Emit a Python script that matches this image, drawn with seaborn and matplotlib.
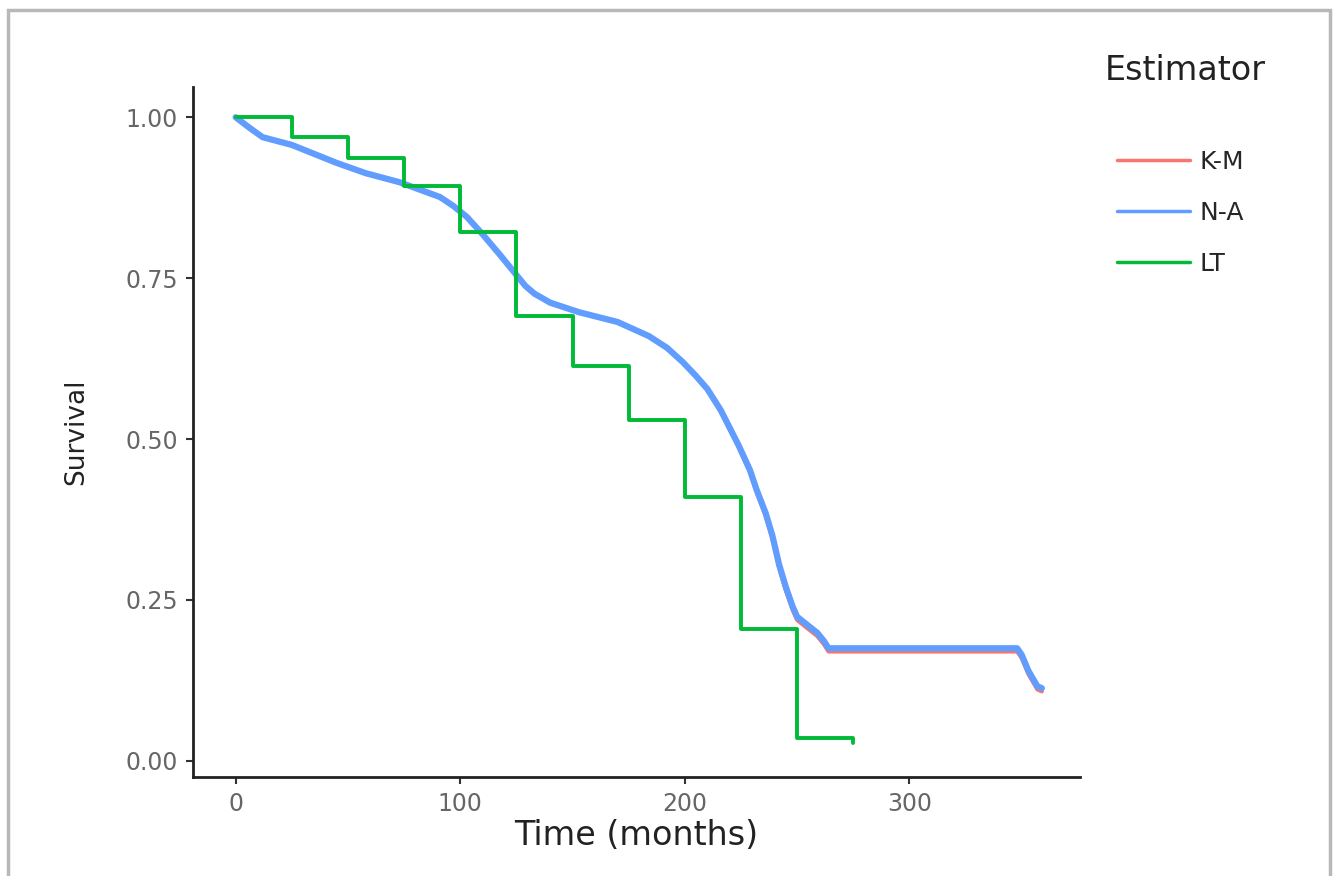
import matplotlib
import pandas as pd
import seaborn as sns

matplotlib.use("Agg")
import matplotlib.pyplot as plt
from matplotlib.lines import Line2D
from matplotlib.patches import Rectangle

# Kaplan-Meier and Nelson-Aalen curves
curve_time = [0, 6, 12, 25, 45, 58, 73, 91, 97, 103, 110, 118, 125, 129, 133, 140, 153,
              170, 184, 192, 199, 205, 210, 216, 224, 229, 232, 236, 239, 242, 245, 248,
              250, 255, 259, 262, 264, 348, 350, 353, 357, 359]
na_surv = [1.0, 0.984, 0.969, 0.957, 0.929, 0.913, 0.899, 0.876, 0.862, 0.845, 0.818,
           0.785, 0.755, 0.738, 0.726, 0.712, 0.697, 0.682, 0.660, 0.642, 0.620, 0.598,
           0.578, 0.545, 0.490, 0.452, 0.421, 0.385, 0.350, 0.305, 0.270, 0.240,
           0.224, 0.210, 0.199, 0.186, 0.175, 0.175, 0.165, 0.140, 0.116, 0.113]
km_surv = [1.0, 0.984, 0.969, 0.957, 0.929, 0.913, 0.899, 0.876, 0.862, 0.845, 0.818,
           0.785, 0.755, 0.738, 0.726, 0.712, 0.697, 0.682, 0.660, 0.642, 0.620, 0.598,
           0.577, 0.543, 0.488, 0.449, 0.418, 0.381, 0.346, 0.300, 0.265, 0.235,
           0.219, 0.205, 0.194, 0.181, 0.170, 0.170, 0.160, 0.135, 0.111, 0.108]

# life table estimate, 25-month intervals
lt_time = [0, 25, 50, 75, 100, 125, 150, 175, 200, 225, 250, 275]
lt_surv = [1.0, 0.969, 0.936, 0.893, 0.821, 0.691, 0.613, 0.530, 0.410, 0.205, 0.036, 0.028]

estimators = ["K-M", "N-A", "LT"]
colors = {"K-M": "#F8766D", "N-A": "#619CFF", "LT": "#00BA38"}

km = pd.DataFrame({"Time": curve_time, "Survival": km_surv})
na = pd.DataFrame({"Time": curve_time, "Survival": na_surv})
lt = pd.DataFrame({"Time": lt_time, "Survival": lt_surv})

sns.set_theme(style="white")
plt.rcParams["font.family"] = ["DejaVu Sans"]

fig = plt.figure(figsize=(13.43, 8.76), dpi=100)
ax = fig.add_axes([0.1437, 0.113, 0.8042 - 0.1437, 0.9007 - 0.113])

sns.lineplot(data=km, x="Time", y="Survival", color=colors["K-M"], lw=3,
             estimator=None, sort=False, ax=ax)
sns.lineplot(data=na, x="Time", y="Survival", color=colors["N-A"], lw=4.5,
             estimator=None, sort=False, ax=ax)
sns.lineplot(data=lt, x="Time", y="Survival", color=colors["LT"], lw=2.8,
             estimator=None, sort=False, drawstyle="steps-post", ax=ax)

ax.set_xlim(-19, 376)
ax.set_ylim(-0.025, 1.047)
ax.set_xticks([0, 100, 200, 300])
ax.set_yticks([0.0, 0.25, 0.5, 0.75, 1.0])
ax.set_yticklabels(["0.00", "0.25", "0.50", "0.75", "1.00"])
ax.tick_params(axis="both", length=5, width=1.5, color="#333333",
               labelsize=17, labelcolor="#666666", pad=6, left=True, bottom=True)
ax.set_xlabel("Time (months)", fontsize=24, color="#222222", labelpad=2)
ax.set_ylabel("Survival", fontsize=19, color="#222222", labelpad=26)
for side in ["top", "right"]:
    ax.spines[side].set_visible(False)
for side in ["left", "bottom"]:
    ax.spines[side].set_color("#222222")
    ax.spines[side].set_linewidth(2)
ax.grid(False)

fig.text(1105 / 1343, 1 - 70 / 876, "Estimator", fontsize=24, color="#222222",
         ha="left", va="center")
handles = [Line2D([], [], color=colors[e], lw=2.5) for e in estimators]
fig.legend(handles, estimators, loc="upper left",
           bbox_to_anchor=(1107 / 1343, 1 - 140 / 876), frameon=False,
           fontsize=18, handlelength=2.9, handletextpad=0.4, labelspacing=1.08,
           borderaxespad=0)

# grey frame around the picture
fig.patches.append(Rectangle((8 / 1343, -0.2), (1330 - 8) / 1343, 1.2 - 10 / 876,
                             transform=fig.transFigure, fill=False,
                             edgecolor="#b8b8b8", lw=2.5))

plt.savefig("out.png", dpi=100)
plt.close()
